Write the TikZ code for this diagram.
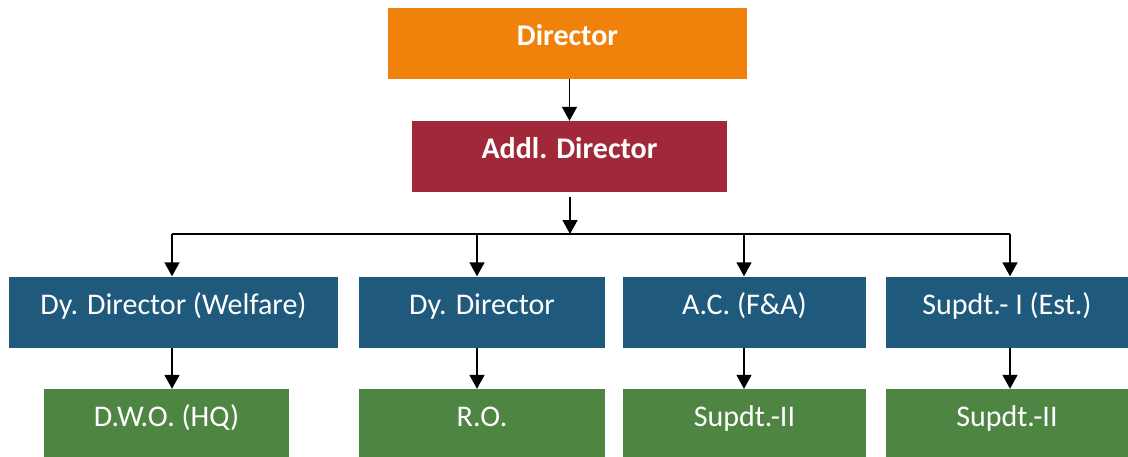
\documentclass[tikz,border=0pt]{standalone}
\usepackage{fontspec}
\setmainfont{Carlito}
\usetikzlibrary{arrows.meta}
\definecolor{topcol}{HTML}{F0810A}
\definecolor{addlcol}{HTML}{A02838}
\definecolor{dycol}{HTML}{1F5A7C}
\definecolor{lowcol}{HTML}{4E8543}
\tikzset{
  box/.style={rectangle, minimum height=71pt, inner sep=0pt, text=white,
    text height=20pt, text depth=16pt, font=\fontsize{30}{33}\selectfont},
  boldbox/.style={box, font=\fontsize{30}{33}\selectfont\bfseries},
  arr/.style={-{Triangle[width=15pt,length=14pt]}, line width=1.6pt}
}
\begin{document}
\begin{tikzpicture}[x=1pt,y=-1pt]
\useasboundingbox (0,0) rectangle (1128,456);
\node[boldbox, fill=topcol, minimum width=359pt] (dir) at (567.5,43.5) {Director};
\node[boldbox, fill=addlcol, minimum width=315pt] (addl) at (569.5,156.5) {Addl. Director};

\node[box, fill=dycol, minimum width=329pt] (dy1) at (173.5,312) {Dy. Director (Welfare)};
\node[box, fill=dycol, minimum width=246pt] (dy2) at (482,312) {Dy. Director};
\node[box, fill=dycol, minimum width=243pt] (ac) at (744.5,312) {A.C. (F\&A)};
\node[box, fill=dycol, minimum width=242pt] (sup1) at (1007,312) {Supdt.- I (Est.)};

\node[box, fill=lowcol, minimum width=245pt] (dwo) at (166.5,424.5) {D.W.O. (HQ)};
\node[box, fill=lowcol, minimum width=246pt] (ro) at (482,424.5) {R.O.};
\node[box, fill=lowcol, minimum width=243pt] (sup2a) at (744.5,424.5) {Supdt.-II};
\node[box, fill=lowcol, minimum width=242pt] (sup2b) at (1007,424.5) {Supdt.-II};

\coordinate (bus) at (570,234);
\coordinate (t1) at (172,234);
\coordinate (t2) at (477,234);
\coordinate (t3) at (744,234);
\coordinate (t4) at (1010,234);

\path[draw,arr] (dir.south -| addl.north) -- (addl.north);
\path[draw,arr] ([yshift=-5pt]addl.south -| bus) -- (bus);
\path[draw,line width=1.6pt] (t1) -- (t4);

\path[draw,arr] (t1) -- (t1 |- dy1.north);
\path[draw,arr] (t2) -- (t2 |- dy2.north);
\path[draw,arr] (t3) -- (t3 |- ac.north);
\path[draw,arr] (t4) -- (t4 |- sup1.north);

\path[draw,arr] (t1 |- dy1.south) -- (t1 |- dwo.north);
\path[draw,arr] (t2 |- dy2.south) -- (t2 |- ro.north);
\path[draw,arr] (t3 |- ac.south) -- (t3 |- sup2a.north);
\path[draw,arr] (t4 |- sup1.south) -- (t4 |- sup2b.north);
\end{tikzpicture}
\end{document}
